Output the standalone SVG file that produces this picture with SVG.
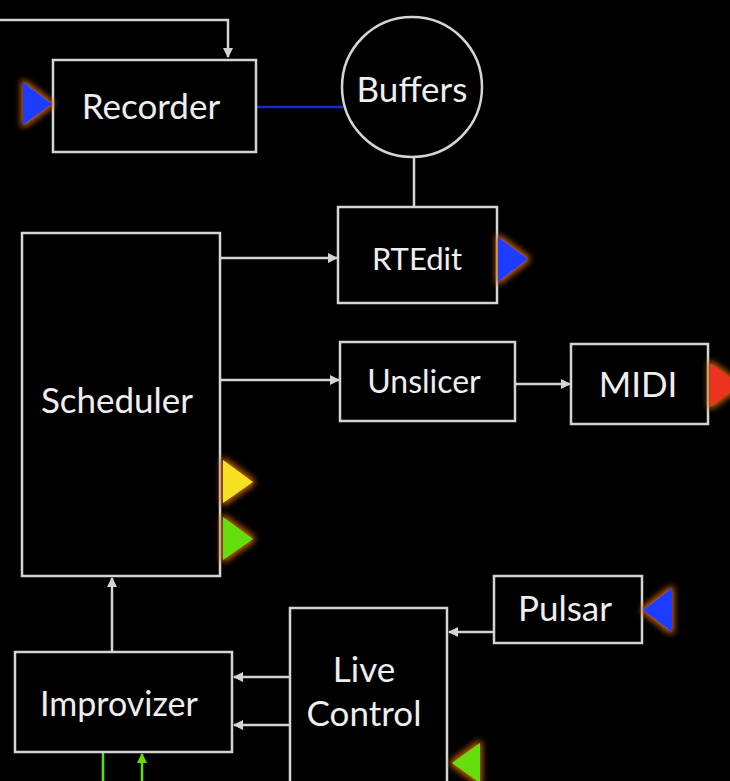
<svg xmlns="http://www.w3.org/2000/svg" width="730" height="781" viewBox="0 0 730 781">
<defs>
<style>
.box{fill:#000;stroke:#d4d4d4;stroke-width:2.5}
.ln{fill:none;stroke:#d4d4d4;stroke-width:2.5}
.t{font-family:Lato,"Open Sans",sans-serif;fill:#eeeeee;text-anchor:middle}
</style>
<marker id="ah" viewBox="0 0 10 10" refX="9" refY="5" markerWidth="4" markerHeight="4" orient="auto" markerUnits="strokeWidth">
<path d="M0,0 L10,5 L0,10 z" fill="#d4d4d4"/>
</marker>
<marker id="ahg" viewBox="0 0 10 10" refX="9" refY="5" markerWidth="4" markerHeight="4" orient="auto" markerUnits="strokeWidth">
<path d="M0,0 L10,5 L0,10 z" fill="#66dd00"/>
</marker>
<filter id="glow" x="-50%" y="-50%" width="200%" height="200%">
<feMorphology in="SourceAlpha" operator="dilate" radius="2" result="d"/>
<feGaussianBlur in="d" stdDeviation="3" result="b"/>
<feFlood flood-color="#c86400"/>
<feComposite in2="b" operator="in" result="g"/>
<feMerge><feMergeNode in="g"/><feMergeNode in="SourceGraphic"/></feMerge>
</filter>
</defs>
<rect width="730" height="781" fill="#000"/>
<g id="connectors">
<path class="ln" d="M0,20 H228 V57" marker-end="url(#ah)"/>
<line x1="256" y1="107" x2="343" y2="107" stroke="#1428d8" stroke-width="2.5"/>
<line class="ln" x1="414" y1="157" x2="414" y2="207"/>
<line class="ln" x1="220" y1="258" x2="337" y2="258" marker-end="url(#ah)"/>
<line class="ln" x1="220" y1="380" x2="339" y2="380" marker-end="url(#ah)"/>
<line class="ln" x1="515" y1="384" x2="570" y2="384" marker-end="url(#ah)"/>
<line class="ln" x1="112" y1="652" x2="112" y2="578" marker-end="url(#ah)"/>
<line class="ln" x1="290" y1="677" x2="234" y2="677" marker-end="url(#ah)"/>
<line class="ln" x1="290" y1="725" x2="234" y2="725" marker-end="url(#ah)"/>
<line class="ln" x1="494" y1="632" x2="449" y2="632" marker-end="url(#ah)"/>
<line x1="103" y1="753" x2="103" y2="781" stroke="#66dd00" stroke-width="2.5"/>
<line x1="142" y1="781" x2="142" y2="754" stroke="#66dd00" stroke-width="2.5" marker-end="url(#ahg)"/>
</g>
<g id="recorder">
<rect class="box" x="53" y="60" width="203" height="92"/>
<text class="t" x="151" y="119" font-size="35">Recorder</text>
<polygon points="23,82 52,104 23,125" fill="#1a3cff" filter="url(#glow)"/>
</g>
<g id="buffers">
<circle class="box" cx="412" cy="87" r="70"/>
<text class="t" x="412" y="102" font-size="35">Buffers</text>
</g>
<g id="rtedit">
<rect class="box" x="338" y="207" width="159" height="96"/>
<text class="t" x="417" y="270" font-size="31">RTEdit</text>
<polygon points="498,237 528,259 498,282" fill="#1a3cff" filter="url(#glow)"/>
</g>
<g id="scheduler">
<rect class="box" x="22" y="233" width="198" height="343"/>
<text class="t" x="117" y="413" font-size="35">Scheduler</text>
<polygon points="223,460 253,482 223,503" fill="#f5e020" filter="url(#glow)"/>
<polygon points="223,517 253,539 223,560" fill="#66dd11" filter="url(#glow)"/>
</g>
<g id="unslicer">
<rect class="box" x="340" y="342" width="175" height="79"/>
<text class="t" x="424" y="393" font-size="32">Unslicer</text>
</g>
<g id="midi">
<rect class="box" x="571" y="344" width="137" height="80"/>
<text class="t" x="638" y="397" font-size="35">MIDI</text>
<polygon points="710,363 740,385 710,407" fill="#ee3322" filter="url(#glow)"/>
</g>
<g id="improvizer">
<rect class="box" x="15" y="652" width="217" height="100"/>
<text class="t" x="119" y="716" font-size="34">Improvizer</text>
</g>
<g id="livecontrol">
<rect class="box" x="290" y="608" width="157" height="190"/>
<text class="t" x="364" y="682" font-size="35">Live</text>
<text class="t" x="364" y="726" font-size="35">Control</text>
<polygon points="480,743 452,763 480,783" fill="#66dd11" filter="url(#glow)"/>
</g>
<g id="pulsar">
<rect class="box" x="494" y="576" width="148" height="67"/>
<text class="t" x="565" y="621" font-size="35">Pulsar</text>
<polygon points="672,588 643,610 672,632" fill="#1a3cff" filter="url(#glow)"/>
</g>
</svg>
